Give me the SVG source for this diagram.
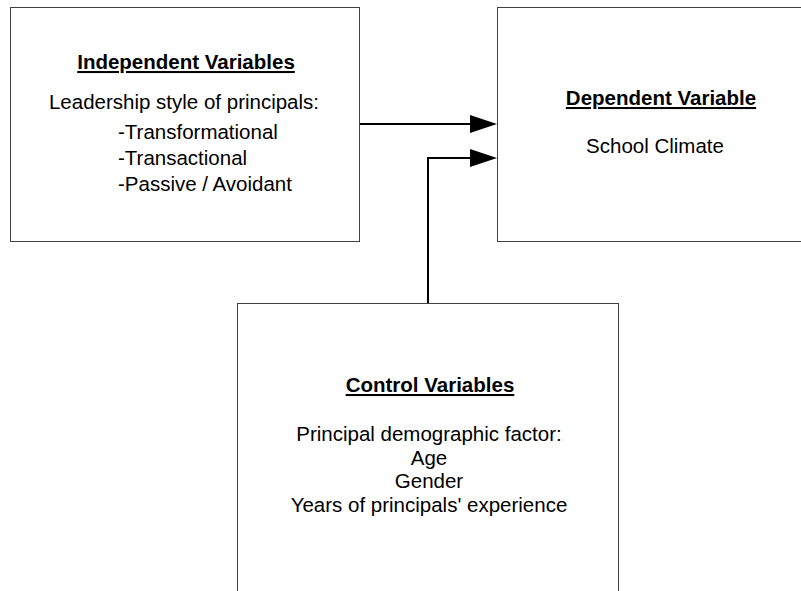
<svg xmlns="http://www.w3.org/2000/svg" width="801" height="591" viewBox="0 0 801 591">
  <style>
    .box { fill: #ffffff; stroke: #404040; stroke-width: 1; }
    .t { font-family: "Liberation Sans", Arial, sans-serif; font-size: 20.5px; fill: #000000; }
    .h { font-weight: bold; text-decoration: underline; }
    .c { text-anchor: middle; }
    .conn { fill: none; stroke: #000000; stroke-width: 2; }
  </style>
  <rect width="801" height="591" fill="#ffffff"/>
  <g id="independent">
    <rect class="box" x="10.5" y="7.5" width="349" height="234"/>
    <text class="t h c" x="186" y="69">Independent Variables</text>
    <text class="t c" x="184" y="109">Leadership style of principals:</text>
    <text class="t" x="118" y="139">-Transformational</text>
    <text class="t" x="118" y="165">-Transactional</text>
    <text class="t" x="118" y="191">-Passive / Avoidant</text>
  </g>
  <g id="dependent">
    <rect class="box" x="497.5" y="7.5" width="320" height="234"/>
    <text class="t h c" x="661" y="105">Dependent Variable</text>
    <text class="t c" x="655" y="153">School Climate</text>
  </g>
  <g id="control">
    <rect class="box" x="237.5" y="303.5" width="381" height="300"/>
    <text class="t h c" x="430" y="392">Control Variables</text>
    <text class="t c" x="429" y="441">Principal demographic factor:</text>
    <text class="t c" x="429" y="465">Age</text>
    <text class="t c" x="429" y="488">Gender</text>
    <text class="t c" x="429" y="512">Years of principals' experience</text>
  </g>
  <g id="connectors">
    <path class="conn" d="M360,124 L470,124" />
    <path d="M470,115 L497,124 L470,133 Z" fill="#000000"/>
    <path class="conn" d="M428,303 L428,158 L470,158" />
    <path d="M470,149 L497,158 L470,167 Z" fill="#000000"/>
  </g>
</svg>
